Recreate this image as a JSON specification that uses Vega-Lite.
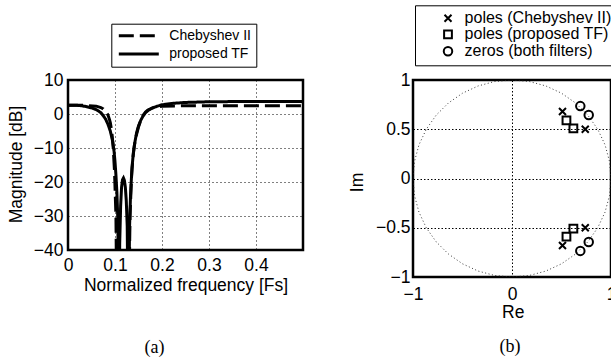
{
  "$schema": "https://vega.github.io/schema/vega-lite/v6.json",
  "autosize": {"type": "pad"},
  "padding": {"left": 6, "top": 4, "right": 0, "bottom": 0},
  "bounds": "flush",
  "spacing": 110,
  "config": {
    "font": "Liberation Sans",
    "view": {"stroke": "black", "strokeWidth": 2.5},
    "axis": {
      "domain": false, "ticks": false, "grid": true,
      "gridColor": "black", "gridWidth": 1, "gridOpacity": 1,
      "labelFont": "Liberation Sans", "labelFontSize": 17.5, "labelColor": "black",
      "titleFont": "Liberation Sans", "titleFontSize": 17.5, "titleFontWeight": "normal", "titleColor": "black",
      "labelOverlap": false, "labelBound": false, "labelFlush": false
    },
    "legend": {"labelFont": "Liberation Sans", "labelColor": "black", "cornerRadius": 0}
  },
  "hconcat": [
    {
      "width": 235,
      "height": 170,
      "title": {"text": "(a)", "orient": "bottom", "anchor": "middle", "font": "Liberation Serif", "fontSize": 18, "fontWeight": "normal", "color": "black", "baseline": "alphabetic", "offset": 59, "dx": -31},
      "data": {"values": [
        {"series": "proposed TF", "f": 0, "mag": 2.6},
        {"series": "proposed TF", "f": 0.01, "mag": 2.6},
        {"series": "proposed TF", "f": 0.02, "mag": 2.55},
        {"series": "proposed TF", "f": 0.03, "mag": 2.4},
        {"series": "proposed TF", "f": 0.04, "mag": 2.15},
        {"series": "proposed TF", "f": 0.05, "mag": 1.8},
        {"series": "proposed TF", "f": 0.06, "mag": 1.3},
        {"series": "proposed TF", "f": 0.07, "mag": 0.4},
        {"series": "proposed TF", "f": 0.075, "mag": -0.5},
        {"series": "proposed TF", "f": 0.08, "mag": -1.5},
        {"series": "proposed TF", "f": 0.085, "mag": -3},
        {"series": "proposed TF", "f": 0.09, "mag": -5},
        {"series": "proposed TF", "f": 0.095, "mag": -8},
        {"series": "proposed TF", "f": 0.098, "mag": -11},
        {"series": "proposed TF", "f": 0.1, "mag": -14},
        {"series": "proposed TF", "f": 0.102, "mag": -18},
        {"series": "proposed TF", "f": 0.104, "mag": -23},
        {"series": "proposed TF", "f": 0.106, "mag": -31},
        {"series": "proposed TF", "f": 0.1085, "mag": -70},
        {"series": "proposed TF", "f": 0.11, "mag": -38},
        {"series": "proposed TF", "f": 0.112, "mag": -27},
        {"series": "proposed TF", "f": 0.114, "mag": -21.5},
        {"series": "proposed TF", "f": 0.116, "mag": -19.3},
        {"series": "proposed TF", "f": 0.118, "mag": -18.8},
        {"series": "proposed TF", "f": 0.12, "mag": -19.5},
        {"series": "proposed TF", "f": 0.122, "mag": -21.5},
        {"series": "proposed TF", "f": 0.124, "mag": -25.5},
        {"series": "proposed TF", "f": 0.126, "mag": -33},
        {"series": "proposed TF", "f": 0.1285, "mag": -70},
        {"series": "proposed TF", "f": 0.131, "mag": -33},
        {"series": "proposed TF", "f": 0.133, "mag": -24},
        {"series": "proposed TF", "f": 0.136, "mag": -16},
        {"series": "proposed TF", "f": 0.139, "mag": -11.5},
        {"series": "proposed TF", "f": 0.142, "mag": -8.5},
        {"series": "proposed TF", "f": 0.146, "mag": -5.5},
        {"series": "proposed TF", "f": 0.15, "mag": -3.5},
        {"series": "proposed TF", "f": 0.155, "mag": -1.8},
        {"series": "proposed TF", "f": 0.16, "mag": -0.5},
        {"series": "proposed TF", "f": 0.165, "mag": 0.4},
        {"series": "proposed TF", "f": 0.17, "mag": 1.0},
        {"series": "proposed TF", "f": 0.18, "mag": 1.8},
        {"series": "proposed TF", "f": 0.19, "mag": 2.3},
        {"series": "proposed TF", "f": 0.2, "mag": 2.7},
        {"series": "proposed TF", "f": 0.22, "mag": 3.1},
        {"series": "proposed TF", "f": 0.25, "mag": 3.4},
        {"series": "proposed TF", "f": 0.3, "mag": 3.6},
        {"series": "proposed TF", "f": 0.35, "mag": 3.65},
        {"series": "proposed TF", "f": 0.4, "mag": 3.7},
        {"series": "proposed TF", "f": 0.5, "mag": 3.7},
        {"series": "Chebyshev II", "f": 0, "mag": 2.6},
        {"series": "Chebyshev II", "f": 0.02, "mag": 2.6},
        {"series": "Chebyshev II", "f": 0.04, "mag": 2.5},
        {"series": "Chebyshev II", "f": 0.06, "mag": 2.3},
        {"series": "Chebyshev II", "f": 0.065, "mag": 2.1},
        {"series": "Chebyshev II", "f": 0.07, "mag": 1.9},
        {"series": "Chebyshev II", "f": 0.075, "mag": 1.5},
        {"series": "Chebyshev II", "f": 0.08, "mag": 0.8},
        {"series": "Chebyshev II", "f": 0.085, "mag": -0.3},
        {"series": "Chebyshev II", "f": 0.088, "mag": -1.5},
        {"series": "Chebyshev II", "f": 0.09, "mag": -2.5},
        {"series": "Chebyshev II", "f": 0.093, "mag": -5},
        {"series": "Chebyshev II", "f": 0.096, "mag": -9.5},
        {"series": "Chebyshev II", "f": 0.099, "mag": -17},
        {"series": "Chebyshev II", "f": 0.102, "mag": -30},
        {"series": "Chebyshev II", "f": 0.104, "mag": -60},
        {"series": "Chebyshev II", "f": 0.118, "mag": -60},
        {"series": "Chebyshev II", "f": 0.129, "mag": -60},
        {"series": "Chebyshev II", "f": 0.132, "mag": -30},
        {"series": "Chebyshev II", "f": 0.135, "mag": -19},
        {"series": "Chebyshev II", "f": 0.138, "mag": -13},
        {"series": "Chebyshev II", "f": 0.141, "mag": -9.5},
        {"series": "Chebyshev II", "f": 0.145, "mag": -6.5},
        {"series": "Chebyshev II", "f": 0.15, "mag": -3.8},
        {"series": "Chebyshev II", "f": 0.155, "mag": -1.8},
        {"series": "Chebyshev II", "f": 0.16, "mag": -0.4},
        {"series": "Chebyshev II", "f": 0.165, "mag": 0.6},
        {"series": "Chebyshev II", "f": 0.17, "mag": 1.2},
        {"series": "Chebyshev II", "f": 0.18, "mag": 1.8},
        {"series": "Chebyshev II", "f": 0.19, "mag": 2.1},
        {"series": "Chebyshev II", "f": 0.2, "mag": 2.3},
        {"series": "Chebyshev II", "f": 0.25, "mag": 2.45},
        {"series": "Chebyshev II", "f": 0.5, "mag": 2.45}
      ]},
      "mark": {"type": "line", "clip": true, "strokeWidth": 3, "color": "black"},
      "encoding": {
        "x": {"field": "f", "type": "quantitative", "scale": {"domain": [0, 0.5], "nice": false},
          "axis": {"values": [0, 0.1, 0.2, 0.3, 0.4], "format": "~f", "labelPadding": 6, "gridDash": [1, 3],
            "title": "Normalized frequency [Fs]", "titleX": 117.5, "titleY": 40.5, "titleBaseline": "alphabetic"}},
        "y": {"field": "mag", "type": "quantitative", "scale": {"domain": [-40, 10], "nice": false},
          "axis": {"values": [-40, -30, -20, -10, 0, 10], "format": "~f", "labelPadding": 5, "gridDash": [1, 3],
            "title": "Magnitude [dB]", "titleX": -46.7, "titleY": 84, "titleBaseline": "alphabetic"}},
        "strokeDash": {"field": "series", "type": "nominal",
          "scale": {"domain": ["Chebyshev II", "proposed TF"], "range": [[15, 6], [1, 0]]},
          "legend": {"title": null, "orient": "none", "legendX": 43.3, "legendY": -56.3,
            "strokeColor": "black", "fillColor": "white", "padding": 5, "rowPadding": 4.3, "clipHeight": 14,
            "symbolType": "stroke", "symbolSize": 1600, "symbolStrokeWidth": 3, "symbolStrokeColor": "black",
            "symbolOffset": 1, "labelOffset": 9, "labelFontSize": 14, "labelLimit": 300}}
      }
    },
    {
      "width": 198,
      "height": 197,
      "title": {"text": "(b)", "orient": "bottom", "anchor": "middle", "font": "Liberation Serif", "fontSize": 18, "fontWeight": "normal", "color": "black", "baseline": "alphabetic", "offset": 31, "dx": -2},
      "layer": [
        {
          "data": {"values": [
            {"k": 0, "re": 1, "im": 0},
            {"k": 1, "re": 0.9848, "im": 0.1736},
            {"k": 2, "re": 0.9397, "im": 0.342},
            {"k": 3, "re": 0.866, "im": 0.5},
            {"k": 4, "re": 0.766, "im": 0.6428},
            {"k": 5, "re": 0.6428, "im": 0.766},
            {"k": 6, "re": 0.5, "im": 0.866},
            {"k": 7, "re": 0.342, "im": 0.9397},
            {"k": 8, "re": 0.1736, "im": 0.9848},
            {"k": 9, "re": 0, "im": 1},
            {"k": 10, "re": -0.1736, "im": 0.9848},
            {"k": 11, "re": -0.342, "im": 0.9397},
            {"k": 12, "re": -0.5, "im": 0.866},
            {"k": 13, "re": -0.6428, "im": 0.766},
            {"k": 14, "re": -0.766, "im": 0.6428},
            {"k": 15, "re": -0.866, "im": 0.5},
            {"k": 16, "re": -0.9397, "im": 0.342},
            {"k": 17, "re": -0.9848, "im": 0.1736},
            {"k": 18, "re": -1, "im": 0},
            {"k": 19, "re": -0.9848, "im": -0.1736},
            {"k": 20, "re": -0.9397, "im": -0.342},
            {"k": 21, "re": -0.866, "im": -0.5},
            {"k": 22, "re": -0.766, "im": -0.6428},
            {"k": 23, "re": -0.6428, "im": -0.766},
            {"k": 24, "re": -0.5, "im": -0.866},
            {"k": 25, "re": -0.342, "im": -0.9397},
            {"k": 26, "re": -0.1736, "im": -0.9848},
            {"k": 27, "re": 0, "im": -1},
            {"k": 28, "re": 0.1736, "im": -0.9848},
            {"k": 29, "re": 0.342, "im": -0.9397},
            {"k": 30, "re": 0.5, "im": -0.866},
            {"k": 31, "re": 0.6428, "im": -0.766},
            {"k": 32, "re": 0.766, "im": -0.6428},
            {"k": 33, "re": 0.866, "im": -0.5},
            {"k": 34, "re": 0.9397, "im": -0.342},
            {"k": 35, "re": 0.9848, "im": -0.1736},
            {"k": 36, "re": 1, "im": 0}
          ]},
          "mark": {"type": "line", "clip": true, "strokeWidth": 0.9, "color": "#222", "strokeDash": [1, 2.5]},
          "encoding": {
            "x": {"field": "re", "type": "quantitative", "scale": {"domain": [-1, 1], "nice": false},
              "axis": {"values": [-1, 0, 1], "format": "~f", "labelPadding": 8, "gridDash": [1.5, 2],
                "title": "Re", "titleX": 99.7, "titleY": 40.7, "titleBaseline": "alphabetic"}},
            "y": {"field": "im", "type": "quantitative", "scale": {"domain": [-1, 1], "nice": false},
              "axis": {"values": [-1, -0.5, 0, 0.5, 1], "format": "~f", "labelPadding": 3, "gridDash": [1.5, 2],
                "title": "Im", "titleX": -50.3, "titleY": 102, "titleBaseline": "alphabetic"}},
            "order": {"field": "k", "type": "quantitative"}
          }
        },
        {
          "data": {"values": [
            {"type": "poles (Chebyshev II)", "re": 0.51, "im": 0.68},
            {"type": "poles (Chebyshev II)", "re": 0.74, "im": 0.5},
            {"type": "poles (Chebyshev II)", "re": 0.51, "im": -0.68},
            {"type": "poles (Chebyshev II)", "re": 0.74, "im": -0.5},
            {"type": "poles (proposed TF)", "re": 0.55, "im": 0.59},
            {"type": "poles (proposed TF)", "re": 0.62, "im": 0.51},
            {"type": "poles (proposed TF)", "re": 0.55, "im": -0.59},
            {"type": "poles (proposed TF)", "re": 0.62, "im": -0.51},
            {"type": "zeros (both filters)", "re": 0.69, "im": 0.735},
            {"type": "zeros (both filters)", "re": 0.775, "im": 0.645},
            {"type": "zeros (both filters)", "re": 0.69, "im": -0.735},
            {"type": "zeros (both filters)", "re": 0.775, "im": -0.645}
          ]},
          "mark": {"type": "point", "filled": false, "stroke": "black", "strokeWidth": 2, "opacity": 1},
          "encoding": {
            "x": {"field": "re", "type": "quantitative"},
            "y": {"field": "im", "type": "quantitative"},
            "size": {"field": "type", "type": "ordinal",
              "scale": {"domain": ["poles (Chebyshev II)", "poles (proposed TF)", "zeros (both filters)"],
                "range": [49, 72, 121]}},
            "shape": {"field": "type", "type": "ordinal",
              "scale": {"domain": ["poles (Chebyshev II)", "poles (proposed TF)", "zeros (both filters)"],
                "range": ["M-1,-1L1,1M1,-1L-1,1", "square", "circle"]},
              "legend": {"title": null, "orient": "none", "legendX": 347, "legendY": -74.7,
                "strokeColor": "black", "fillColor": "white", "padding": 5, "rowPadding": 0,
                "symbolStrokeWidth": 2, "symbolStrokeColor": "black", "symbolFillColor": "transparent",
                "symbolOffset": 20, "labelOffset": 8.6, "labelFontSize": 16, "labelLimit": 300}}
          }
        }
      ]
    }
  ]
}
